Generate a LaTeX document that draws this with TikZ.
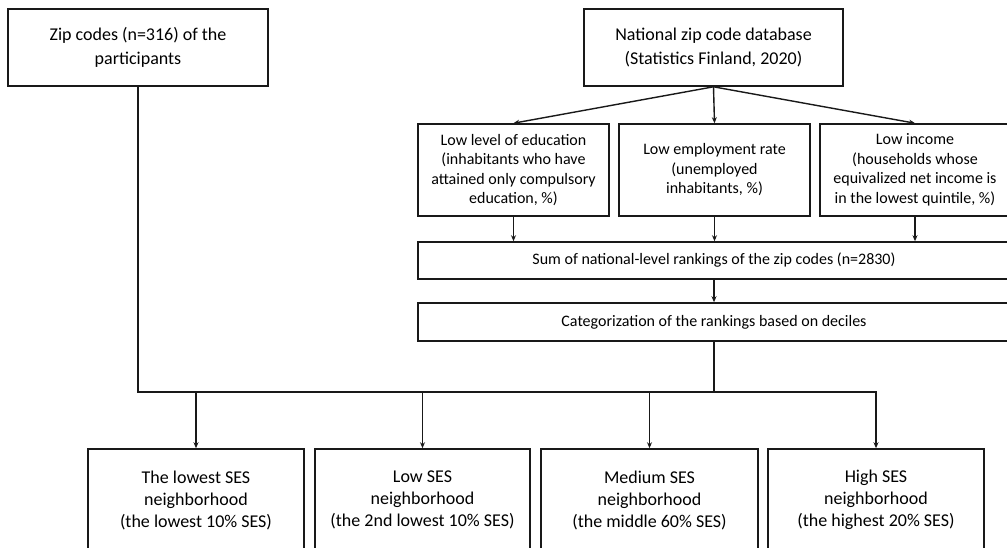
\documentclass[tikz,border=0pt]{standalone}
\usepackage{fontspec}
\setmainfont{Carlito}
\usetikzlibrary{arrows.meta}
\begin{document}
\begin{tikzpicture}[x=1pt,y=-1pt,
  box/.style={draw=black!90, line width=1.6pt, fill=white, align=center, inner sep=0pt, text=black},
  bigtxt/.style={font=\fontsize{18}{24}\selectfont},
  midtxt/.style={font=\fontsize{16}{19.5}\selectfont},
  bottxt/.style={font=\fontsize{18}{22}\selectfont},
  conn/.style={draw=black!90, line width=1.4pt},
  arr/.style={conn, -{Stealth[length=6pt,width=5pt]}}]
\useasboundingbox (0,0) rectangle (1007,547);
\clip (0,0) rectangle (1007,547);
\fill[white] (0,0) rectangle (1007,547);
% top
\node[box,bigtxt,minimum width=260pt,minimum height=77pt] (zip) at (138,47.5) {Zip codes (n=316) of the\\participants};
\node[box,bigtxt,minimum width=259pt,minimum height=77pt] (nat) at (713.5,47.5) {National zip code database\\(Statistics Finland, 2020)};
% middle row
\node[box,midtxt,minimum width=191pt,minimum height=92pt] (edu) at (513.5,170) {Low level of education\\(inhabitants who have\\attained only compulsory\\education, \%)};
\node[box,midtxt,minimum width=191pt,minimum height=92pt] (emp) at (714.5,170) {Low employment rate\\(unemployed\\inhabitants, \%)};
\node[box,midtxt,minimum width=190pt,minimum height=92pt] (inc) at (915,170) {Low income\\(households whose\\equivalized net income is\\in the lowest quintile, \%)};
\node[box,midtxt,minimum width=592pt,minimum height=37pt] (sum) at (714,260.5) {Sum of national-level rankings of the zip codes (n=2830)};
\node[box,midtxt,minimum width=592pt,minimum height=38pt] (cat) at (714,322) {Categorization of the rankings based on deciles};
% bottom row
\node[box,bottxt,minimum width=216pt,minimum height=102pt] (b1) at (196,500) {The lowest SES\\neighborhood\\(the lowest 10\% SES)};
\node[box,bottxt,minimum width=215pt,minimum height=102pt] (b2) at (422.5,500) {Low SES\\neighborhood\\(the 2nd lowest 10\% SES)};
\node[box,bottxt,minimum width=217pt,minimum height=102pt] (b3) at (649.5,500) {Medium SES\\neighborhood\\(the middle 60\% SES)};
\node[box,bottxt,minimum width=216pt,minimum height=102pt] (b4) at (876,500) {High SES\\neighborhood\\(the highest 20\% SES)};
\coordinate (bus) at (0,392);
% connectors
\draw[arr] (nat.south) -- (edu.north);
\draw[arr] (nat.south) -- (emp.north);
\draw[arr] (nat.south) -- (inc.north);
\draw[arr] (edu.south) -- (edu.south |- sum.north);
\draw[arr] (emp.south) -- (emp.south |- sum.north);
\draw[arr] (inc.south) -- (inc.south |- sum.north);
\draw[arr] (sum.south) -- (cat.north);
\draw[conn] (cat.south) -- (cat.south |- bus);
\draw[arr] (zip.south) |- (b4.north |- bus) -- (b4.north);
\draw[arr] (b1.north |- bus) -- (b1.north);
\draw[arr] (b2.north |- bus) -- (b2.north);
\draw[arr] (b3.north |- bus) -- (b3.north);
\end{tikzpicture}
\end{document}
